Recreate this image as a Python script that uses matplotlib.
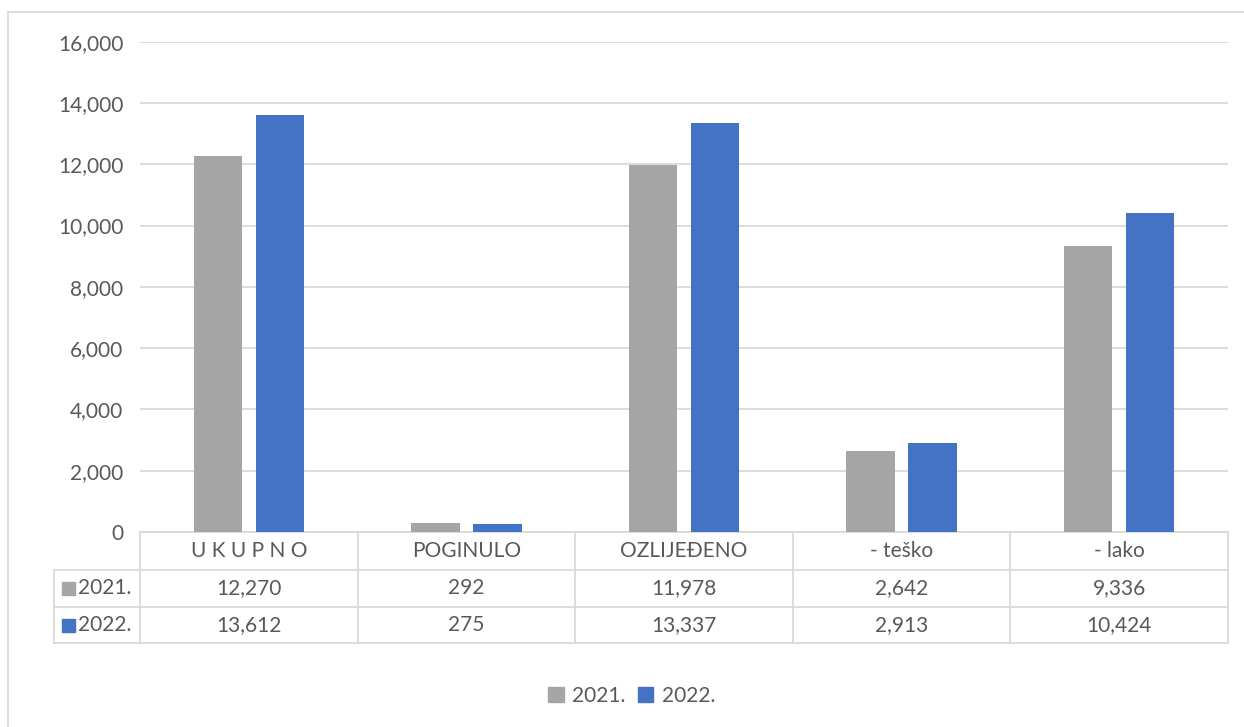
import matplotlib
matplotlib.use("Agg")
import matplotlib.pyplot as plt
import numpy as np
from matplotlib import transforms
from matplotlib.lines import Line2D
from matplotlib.patches import Patch, Rectangle
from matplotlib.ticker import FuncFormatter

categories = ["U K U P N O", "POGINULO", "OZLIJEĐENO", "- teško", "- lako"]
series_names = ["2021.", "2022."]
values_2021 = [12270, 292, 11978, 2642, 9336]
values_2022 = [13612, 275, 13337, 2913, 10424]
colors = ["#a5a5a5", "#4472c4"]

plt.rcParams["font.family"] = ["Lato", "DejaVu Sans"]
TXT = "#595959"
GRID = "#d9d9d9"
FS = 15

W, H = 1244, 727
fig = plt.figure(figsize=(W / 100, H / 100), dpi=100)

# plot area in pixels
px_l, px_r, px_top, px_bot = 140, 1228, 41.7, 532
ax = fig.add_axes([px_l / W, (H - px_bot) / H, (px_r - px_l) / W, (px_bot - px_top) / H])

x = np.arange(len(categories))
bw = 0.223
off = 0.1425
ax.bar(x - off, values_2021, bw, color=colors[0], zorder=3)
ax.bar(x + off, values_2022, bw, color=colors[1], zorder=3)

ax.set_xlim(-0.5, len(categories) - 0.5)
ax.set_ylim(0, 16000)
ax.set_yticks(np.arange(0, 16001, 2000))
ax.yaxis.set_major_formatter(FuncFormatter(lambda v, p: f"{int(v):,}"))
ax.set_xticks([])
ax.tick_params(axis="y", length=0, pad=12, labelsize=FS, labelcolor=TXT)
ax.grid(axis="y", color=GRID, lw=1.3, zorder=0)
for s in ax.spines.values():
    s.set_visible(False)

# data table under the axis
tr = transforms.blended_transform_factory(ax.transData, ax.transAxes)
colw = 217.6


def ya(py):
    return (px_bot - py) / (px_bot - px_top)


def xd(px):
    return -0.5 + (px - px_l) / colw


rows_y = [532, 570, 607, 643]
x_left = xd(54)
x_right = len(categories) - 0.5
lk = dict(color=GRID, lw=1.3, transform=tr, clip_on=False)
ax.add_line(Line2D([-0.5, x_right], [ya(rows_y[0])] * 2, **lk))
for yy in rows_y[1:]:
    ax.add_line(Line2D([x_left, x_right], [ya(yy)] * 2, **lk))
ax.add_line(Line2D([x_left, x_left], [ya(rows_y[1]), ya(rows_y[3])], **lk))
for b in np.arange(len(categories) + 1) - 0.5:
    ax.add_line(Line2D([b, b], [ya(rows_y[0]), ya(rows_y[3])], **lk))

for i, c in enumerate(categories):
    ax.text(i, ya((rows_y[0] + rows_y[1]) / 2), c, ha="center", va="center",
            fontsize=FS, color=TXT, transform=tr)
for r, (name, vals, col) in enumerate(zip(series_names, [values_2021, values_2022], colors)):
    yc = ya((rows_y[r + 1] + rows_y[r + 2]) / 2)
    for i, v in enumerate(vals):
        ax.text(i, yc, f"{v:,}", ha="center", va="center", fontsize=FS, color=TXT, transform=tr)
    ax.add_patch(Rectangle((xd(62), yc - 6.5 / (px_bot - px_top)), 13 / colw, 13 / (px_bot - px_top),
                           color=col, transform=tr, clip_on=False))
    ax.text(xd(78), yc, name, ha="left", va="center", fontsize=FS, color=TXT, transform=tr)

# outer chart border
fig.add_artist(Line2D([8 / W, 1], [1 - 12 / H] * 2, color=GRID, lw=1.3))
fig.add_artist(Line2D([8 / W] * 2, [0, 1 - 12 / H], color=GRID, lw=1.3))

handles = [Patch(color=c, label=n) for c, n in zip(colors, series_names)]
fig.legend(handles=handles, loc="center", bbox_to_anchor=(631.5 / W, 1 - 696 / H), ncol=2,
           frameon=False, fontsize=FS, handlelength=0.75, handleheight=0.75,
           handletextpad=0.4, columnspacing=0.6, labelcolor=TXT)

fig.savefig("out.png", dpi=100)
